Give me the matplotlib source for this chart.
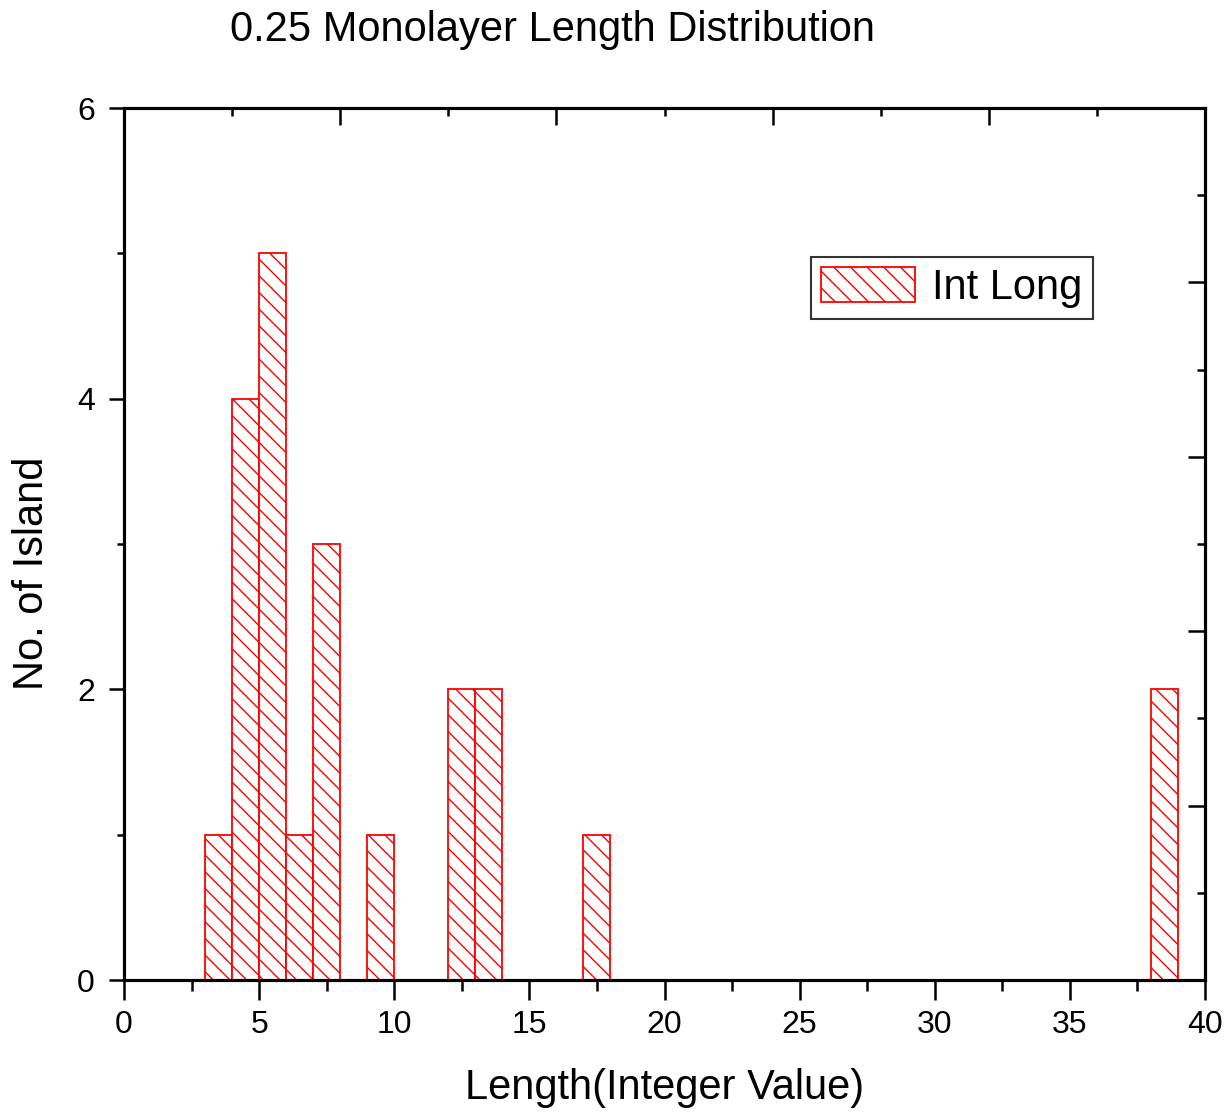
import matplotlib
matplotlib.use("Agg")
import matplotlib.pyplot as plt
from matplotlib.ticker import MultipleLocator, NullFormatter

plt.rcParams['font.family'] = ['Liberation Sans', 'DejaVu Sans']
plt.rcParams['hatch.linewidth'] = 1.0

# Data
lengths = [3, 4, 5, 6, 7, 9, 12, 13, 17, 38]
counts = [1, 4, 5, 1, 3, 1, 2, 2, 1, 2]
series_name = "Int Long"
title = "0.25 Monolayer Length Distribution"
xlabel = "Length(Integer Value)"
ylabel = "No. of Island"

W, H = 1230, 1112
fig = plt.figure(figsize=(W / 100, H / 100), dpi=100)
L, R, T, B = 124, 1205, 108, 980
ax = fig.add_axes([L / W, 1 - B / H, (R - L) / W, (B - T) / H])

ax.bar(lengths, counts, width=1, align='edge', facecolor='white',
       edgecolor='red', hatch='\\\\', linewidth=1.3, label=series_name, zorder=2)

ax.set_xlim(0, 40)
ax.set_ylim(0, 6)
ax.xaxis.set_major_locator(MultipleLocator(5))
ax.xaxis.set_minor_locator(MultipleLocator(2.5))
ax.yaxis.set_major_locator(MultipleLocator(2))
ax.yaxis.set_minor_locator(MultipleLocator(1))
ax.tick_params(axis='both', which='both', direction='out', width=1.8, labelsize=23)
ax.tick_params(axis='x', which='major', length=14.5, pad=7)
ax.tick_params(axis='x', which='minor', length=8)
ax.tick_params(axis='y', which='major', length=11, pad=10)
ax.tick_params(axis='y', which='minor', length=5)
for s in ax.spines.values():
    s.set_linewidth(2.2)

# top axis (inward ticks, no labels)
axt = ax.twiny()
axt.set_xlim(0, 40)
axt.xaxis.set_major_locator(MultipleLocator(8))
axt.xaxis.set_minor_locator(MultipleLocator(4))
axt.xaxis.set_major_formatter(NullFormatter())
axt.tick_params(axis='x', which='major', direction='in', length=12, width=1.8)
axt.tick_params(axis='x', which='minor', direction='in', length=6, width=1.8)
for s in axt.spines.values():
    s.set_linewidth(2.2)

# right axis (inward ticks, no labels)
axr = ax.twinx()
axr.set_ylim(0, 1)
axr.yaxis.set_major_locator(MultipleLocator(0.2))
axr.yaxis.set_minor_locator(MultipleLocator(0.1))
axr.yaxis.set_major_formatter(NullFormatter())
axr.tick_params(axis='y', which='major', direction='in', length=12, width=1.8)
axr.tick_params(axis='y', which='minor', direction='in', length=6, width=1.8)
for s in axr.spines.values():
    s.set_linewidth(2.2)

h, l = ax.get_legend_handles_labels()
leg = axr.legend(h, l, loc='upper left',
                 bbox_to_anchor=((811 - L) / (R - L), (B - 257) / (B - T)),
                 fontsize=30, frameon=True, fancybox=False, borderpad=0.25,
                 handlelength=2.25, handleheight=0.9, handletextpad=0.4,
                 borderaxespad=0)
leg.get_frame().set_edgecolor('black')
leg.get_frame().set_linewidth(1.5)

fig.text(552 / W, 1 - 30 / H, title, fontsize=30, ha='center', va='center')
fig.text((L + R) / 2 / W, 1 - 1088 / H, xlabel, fontsize=30, ha='center', va='center')
fig.text(32 / W, 1 - 573 / H, ylabel, fontsize=30, ha='center', va='center',
         rotation=90)

fig.savefig("out.png", dpi=100)
